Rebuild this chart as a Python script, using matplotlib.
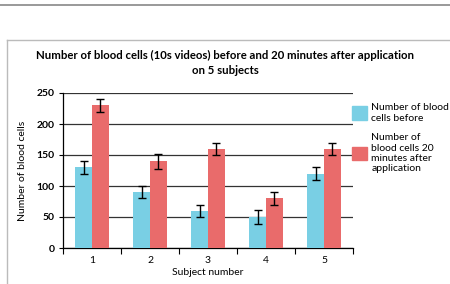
import matplotlib
matplotlib.use("Agg")
import matplotlib.pyplot as plt
import numpy as np
from matplotlib.lines import Line2D
from matplotlib.patches import Patch

subjects = ["1", "2", "3", "4", "5"]
before = [130, 90, 60, 50, 120]
before_err = [10, 10, 10, 11, 11]
after = [230, 140, 160, 80, 160]
after_err = [10, 12, 10, 10, 10]

C_BEFORE, C_AFTER = "#79CFE4", "#E96B6B"
plt.rcParams.update({"font.family": ["Lato", "DejaVu Sans"], "font.size": 7.5})

fig = plt.figure(figsize=(4.5, 2.84), dpi=100)
# page frame lines
fig.add_artist(Line2D([0, 1], [1 - 5 / 284, 1 - 5 / 284], color="#888888", lw=1.2))
fig.add_artist(Line2D([7 / 450, 7 / 450], [0, 1 - 40 / 284], color="#bbbbbb", lw=1))
fig.add_artist(Line2D([7 / 450, 1], [1 - 40 / 284, 1 - 40 / 284], color="#bbbbbb", lw=1))

ax = fig.add_axes([63 / 450, 1 - 248 / 284, 290 / 450, 155 / 284])
x = np.arange(1, len(subjects) + 1)
w = 0.29
ek = dict(ecolor="black", elinewidth=1, capsize=3, capthick=1)
ax.bar(x - w / 2, before, w, yerr=before_err, color=C_BEFORE, error_kw=ek, zorder=3)
ax.bar(x + w / 2, after, w, yerr=after_err, color=C_AFTER, error_kw=ek, zorder=3)

ax.set_xlim(0.5, 5.5)
ax.set_ylim(0, 250)
ax.set_yticks([0, 50, 100, 150, 200, 250])
ax.set_xticks(x)
ax.set_xticklabels(subjects)
ax.set_xticks(np.arange(0.5, 6.0, 1.0), minor=True)
ax.tick_params(axis="x", which="major", length=0, pad=6)
ax.tick_params(axis="x", which="minor", length=4, width=0.8, direction="out")
ax.tick_params(axis="y", length=3, width=0.8, pad=3)
for t in ax.get_yticklabels():
    t.set_fontweight("bold")
ax.grid(axis="y", color="#333333", lw=0.9, zorder=0)
for s in ["top", "right"]:
    ax.spines[s].set_visible(False)
ax.spines["left"].set_linewidth(0.9)
ax.spines["bottom"].set_linewidth(0.9)

ax.set_xlabel("Subject number", labelpad=2)
ax.set_ylabel("Number of blood cells")
ax.yaxis.set_label_coords(-0.125, 0.5)
fig.text(0.5, 1 - 63 / 284, "Number of blood cells (10s videos) before and 20 minutes after application\non 5 subjects",
         ha="center", va="center", fontweight="bold", fontsize=8.2, linespacing=1.55)

handles = [Patch(color=C_BEFORE), Patch(color=C_AFTER)]
labels = ["Number of blood\ncells before", "Number of\nblood cells 20\nminutes after\napplication"]
fig.legend(handles, labels, loc="upper left", bbox_to_anchor=(343 / 450, 1 - 94 / 284),
           frameon=False, handlelength=1.4, handleheight=1.6, handletextpad=0.4,
           labelspacing=1.0, fontsize=7.5)

fig.savefig("out.png", dpi=100)
